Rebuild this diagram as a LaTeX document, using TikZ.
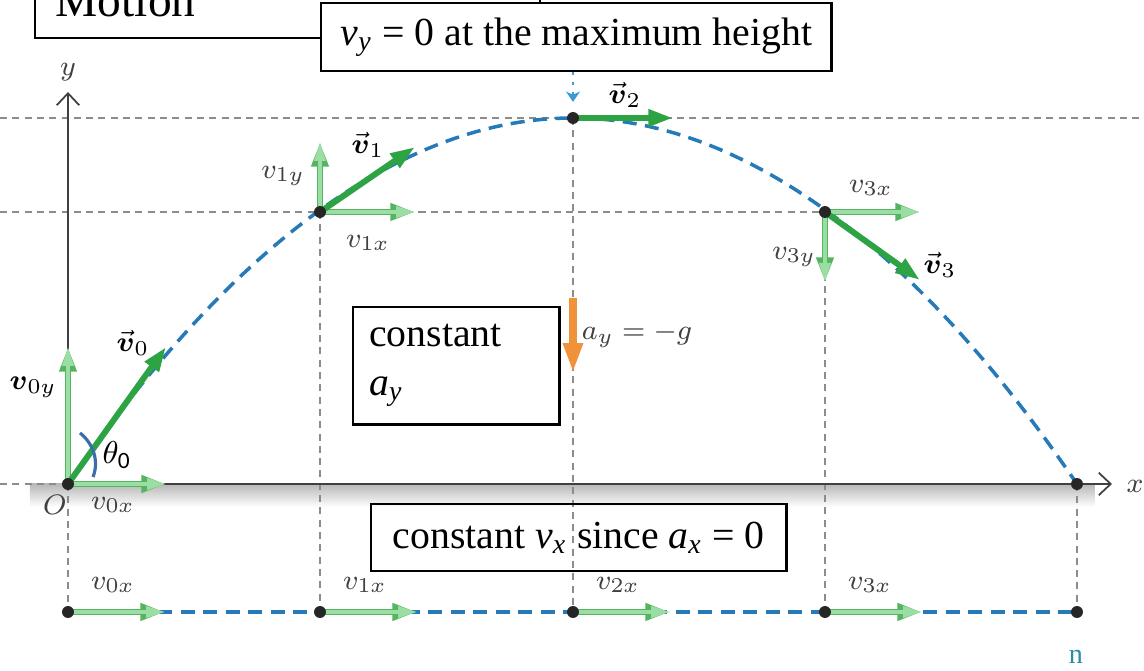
\documentclass[tikz,border=0pt]{standalone}
\usepackage{amsmath}
\usepackage{fontspec}
\setmainfont{Liberation Serif}
\newfontfamily\zerofont{Carlito}
\usetikzlibrary{arrows.meta,positioning}

\definecolor{vgreen}{RGB}{46,163,68}
\definecolor{compdark}{RGB}{84,180,96}
\definecolor{complight}{RGB}{155,222,164}
\definecolor{pblue}{RGB}{38,122,184}
\definecolor{aorange}{RGB}{240,146,58}
\definecolor{dotblue}{RGB}{60,155,215}
\definecolor{arcblue}{RGB}{59,110,168}
\definecolor{nteal}{RGB}{42,140,165}

% italic letter with italic subscript, in text
\newcommand{\tv}[2]{\textit{#1}\textsubscript{\textit{#2}}}

\tikzset{
	vec/.style={vgreen, line width=1.7pt, -{Triangle[length=7pt,width=4.6pt]}},
	comp/.style={complight, line width=0.9pt, -{Triangle[length=5.4pt,width=3.2pt]},
		preaction={draw=compdark, line width=1.8pt, -{Triangle[length=7pt,width=4.6pt]}}},
	guide/.style={black!45, line width=0.35pt, dash pattern=on 2pt off 1.5pt},
	traj/.style={pblue, line width=1pt, dash pattern=on 4pt off 2.4pt},
	axis/.style={black!75, line width=0.5pt, -{Straight Barb[length=3.4pt,width=6.4pt]}},
	dot/.style={circle, fill=black!85, inner sep=0pt, minimum size=3.4pt},
	lbl/.style={text=black!75, font=\fontsize{8}{9}\selectfont, inner sep=1pt},
	vlbl/.style={text=black, font=\fontsize{8}{9}\selectfont, inner sep=1pt},
	tbox/.style={draw, line width=0.7pt, font=\fontsize{11.3}{13.7}\selectfont}
}

\begin{document}
\begin{tikzpicture}[x=0.01cm, y=-0.01cm]
	\useasboundingbox (0,0) rectangle (1144,671);
	
	% Points on the trajectory
	\coordinate (P0) at (68,484);
	\coordinate (P1) at (320,212);
	\coordinate (P2) at (573,118);
	\coordinate (P3) at (825,212);
	\coordinate (P4) at (1077,484);
	
	% Points of the bottom row, same x
	\foreach \i/\xx in {0/68,1/320,2/573,3/825,4/1077}
		\coordinate (B\i) at (\xx,612);
	
	% Shadow under the ground
	\shade[top color=black!28, bottom color=white] (30,484) rectangle (1095,507);
	
	% Dashed guides
	\draw[guide] (0,118) -- (1144,118);
	\draw[guide] (0,212) -- (P3);
	\draw[guide] (0,484) -- (P0);
	\foreach \i in {0,...,4}
		\draw[guide] (P\i) -- (B\i);
	
	% Axes
	\draw[axis] (P0) -- (1112,484) coordinate (xend);
	\draw[axis] (P0) -- (68,92) coordinate (yend);
	\node[lbl] (xlab) at (1135,486) {$x$};
	\node[lbl] (ylab) at (68,72) {$y$};
	\node[lbl] (olab) at (55,505) {$O$};
	
	% Trajectory, a parabola with its top at P2
	\draw[traj] (P0) parabola bend (P2) (P4);
	
	% Velocity components
	\draw[comp] (P0) -- (166,484) coordinate (c0x);
	\draw[comp] (P0) -- (68,347) coordinate (c0y);
	\draw[comp] (P1) -- (415,212) coordinate (c1x);
	\draw[comp] (P1) -- (320,142) coordinate (c1y);
	\draw[comp] (P3) -- (920,212) coordinate (c3x);
	\draw[comp] (P3) -- (825,282) coordinate (c3y);
	
	% Velocity vectors, tangent to the path
	\draw[vec] (P0) -- (166,347) coordinate (v0);
	\draw[vec] (P1) -- (415,147) coordinate (v1);
	\draw[vec] (P2) -- (673,118) coordinate (v2);
	\draw[vec] (P3) -- (920,280) coordinate (v3);
	
	% Angle at launch
	\draw[arcblue, line width=0.9pt] (80,433) .. controls (94,444) and (99,462) .. (93,477);
	\node[inner sep=0pt, font=\fontsize{9.5}{11}\selectfont] (thlab) at (117,455) {$\theta_{\text{\zerofont 0}}$};
	
	% Bottom row: same horizontal motion
	\draw[traj] (B0) -- (B4);
	\foreach \i in {0,...,3} {
		\draw[comp] (B\i) -- ++(97,0) coordinate (bx\i);
		\path (B\i) ++(45,-27) node[lbl] (bl\i) {$v_{\i x}$};
	}
	
	% Dots
	\foreach \i in {0,...,4} {
		\node[dot] (dp\i) at (P\i) {};
		\node[dot] (db\i) at (B\i) {};
	}
	
	% Labels of the vectors
	\node[lbl] (l0x) at (113,505) {$v_{0x}$};
	\node[vlbl] (l0y) at (33,387) {$\boldsymbol{v}_{0y}$};
	\node[vlbl] (l0) at (133,343) {$\vec{\boldsymbol{v}}_0$};
	\node[lbl] (l1y) at (283,176) {$v_{1y}$};
	\node[vlbl] (l1) at (368,145) {$\vec{\boldsymbol{v}}_1$};
	\node[lbl] (l1x) at (368,243) {$v_{1x}$};
	\node[vlbl] (l2) at (625,95) {$\vec{\boldsymbol{v}}_2$};
	\node[lbl] (l3x) at (871,188) {$v_{3x}$};
	\node[lbl] (l3y) at (794,257) {$v_{3y}$};
	\node[vlbl] (l3) at (940,265) {$\vec{\boldsymbol{v}}_3$};
	
	% Gravity
	\coordinate (g0) at (573,298);
	\coordinate (g1) at (573,373);
	\draw[aorange, line width=2.2pt, -{Triangle[length=8.5pt,width=5.2pt]}] (g0) -- (g1);
	\node[lbl] (glab) at (637,335) {$a_y = -g$};
	
	% Text boxes
	\draw[line width=0.7pt, fill=white] (35,-60) rectangle (540,38);
	\node[anchor=base west, inner sep=0pt, font=\fontsize{13.5}{16}\selectfont] (motion) at (55,17) {Motion};
	\node[tbox, fill=white, anchor=north west, minimum width=5.1cm, minimum height=0.68cm] (topbox) at (320,2)
		{\tv{v}{y} = 0 at the maximum height};
	\node[tbox, anchor=north west, minimum width=2.06cm, minimum height=1.17cm,
		inner xsep=0.16cm, text width=1.74cm, align=left] (aybox) at (352,306)
		{constant\\\tv{a}{y}};
	\node[tbox, anchor=north west, minimum width=4.15cm, minimum height=0.67cm] (vxbox) at (370,503)
		{constant \tv{v}{x} since \tv{a}{x} = 0};
	
	% Pointer from the top box
	\coordinate (pt) at (573,102);
	\draw[dotblue, line width=0.8pt, dotted, -{Stealth[length=3pt,width=4pt]}] (topbox.south -| pt) -- (pt);
	
	\node[text=nteal, font=\fontsize{8}{9}\selectfont] (nlab) at (1076,657) {n};
	
\end{tikzpicture}
\end{document}
